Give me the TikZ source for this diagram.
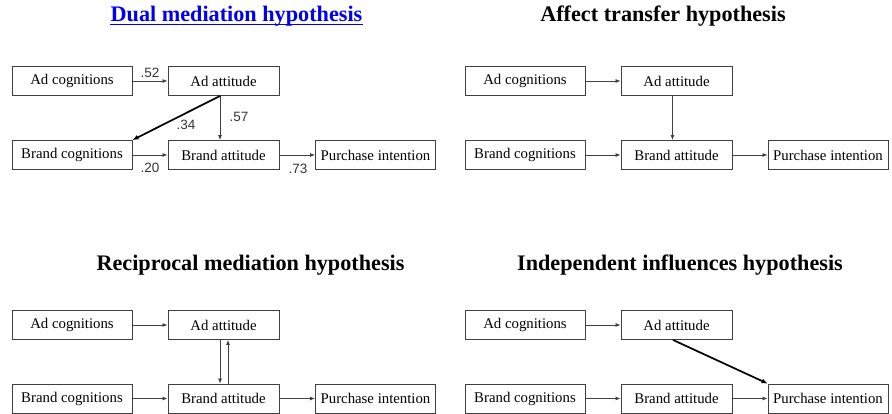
\documentclass[tikz,border=0pt]{standalone}
\usepackage{fontspec}
\setmainfont{Liberation Serif}
\newfontfamily\numfont{Liberation Sans}
\usetikzlibrary{arrows.meta}
\begin{document}
\begin{tikzpicture}[x=1pt,y=-1pt,
  box/.style={draw=black!75,line width=0.9pt,minimum height=29pt,inner sep=0pt,
    font=\fontsize{14.8}{16}\selectfont},
  wbox/.style={box,minimum width=120pt},
  nbox/.style={box,minimum width=111pt},
  arr/.style={draw=black!75,line width=0.8pt,-{Latex[length=5pt,width=4pt]}},
  thick arr/.style={draw=black,line width=1.7pt,-{Latex[length=6pt,width=5pt]}},
  coef/.style={font=\numfont\fontsize{13.5}{15}\selectfont,inner sep=0pt,text=black!80},
  heading/.style={anchor=base,font=\bfseries\fontsize{22.2}{25}\selectfont,inner sep=0pt}]
\useasboundingbox (0,0) rectangle (892,414);

% ---- Dual mediation hypothesis ----
\node[heading,text=blue!93!black] (t1) at (236.5,22) {Dual mediation hypothesis};
\draw[blue!93!black,line width=1pt] ([yshift=-2.3pt]t1.base west) -- ([yshift=-2.3pt]t1.base east);
\node[wbox] (a1) at (72,81) {Ad cognitions};
\node[nbox] (b1) at (223.5,81) {Ad attitude};
\node[wbox] (c1) at (72,155) {Brand cognitions};
\node[nbox] (d1) at (223.5,155) {Brand attitude};
\node[wbox] (e1) at (375.5,155) {Purchase intention};
\draw[arr] (a1) -- (b1);
\draw[arr] ([xshift=-3.5pt]b1.south) -- ([xshift=-3.5pt]d1.north);
\draw[thick arr] ([xshift=-3.5pt]b1.south) -- (c1.north east);
\draw[arr] (c1) -- (d1);
\draw[arr] (d1) -- (e1);
\node[coef] (k52) at (150,73) {.52};
\node[coef] (k57) at (239,117) {.57};
\node[coef] (k34) at (186,125) {.34};
\node[coef] (k20) at (150,168) {.20};
\node[coef] (k73) at (298,169) {.73};

% ---- Affect transfer hypothesis ----
\node[heading] (t2) at (663,22) {Affect transfer hypothesis};
\node[wbox] (a2) at (525,81) {Ad cognitions};
\node[nbox] (b2) at (676.5,81) {Ad attitude};
\node[wbox] (c2) at (525,155) {Brand cognitions};
\node[nbox] (d2) at (676.5,155) {Brand attitude};
\node[wbox] (e2) at (828,155) {Purchase intention};
\draw[arr] (a2) -- (b2);
\draw[arr] ([xshift=-4pt]b2.south) -- ([xshift=-4pt]d2.north);
\draw[arr] (c2) -- (d2);
\draw[arr] (d2) -- (e2);

% ---- Reciprocal mediation hypothesis ----
\node[heading] (t3) at (250.5,271) {Reciprocal mediation hypothesis};
\node[wbox] (a3) at (72,325) {Ad cognitions};
\node[nbox] (b3) at (223.5,325) {Ad attitude};
\node[wbox] (c3) at (72,398.5) {Brand cognitions};
\node[nbox] (d3) at (223.5,398.5) {Brand attitude};
\node[wbox] (e3) at (375.5,398.5) {Purchase intention};
\draw[arr] (a3) -- (b3);
\draw[arr] ([xshift=-3.5pt]b3.south) -- ([xshift=-3.5pt]d3.north);
\draw[arr] ([xshift=4.5pt]d3.north) -- ([xshift=4.5pt]b3.south);
\draw[arr] (c3) -- (d3);
\draw[arr] (d3) -- (e3);

% ---- Independent influences hypothesis ----
\node[heading] (t4) at (680,271) {Independent influences hypothesis};
\node[wbox] (a4) at (525,325) {Ad cognitions};
\node[nbox] (b4) at (676.5,325) {Ad attitude};
\node[wbox] (c4) at (525,398.5) {Brand cognitions};
\node[nbox] (d4) at (676.5,398.5) {Brand attitude};
\node[wbox] (e4) at (828,398.5) {Purchase intention};
\draw[arr] (a4) -- (b4);
\draw[thick arr] ([xshift=-3.5pt]b4.south) -- (e4.north west);
\draw[arr] (c4) -- (d4);
\draw[arr] (d4) -- (e4);
\end{tikzpicture}
\end{document}
